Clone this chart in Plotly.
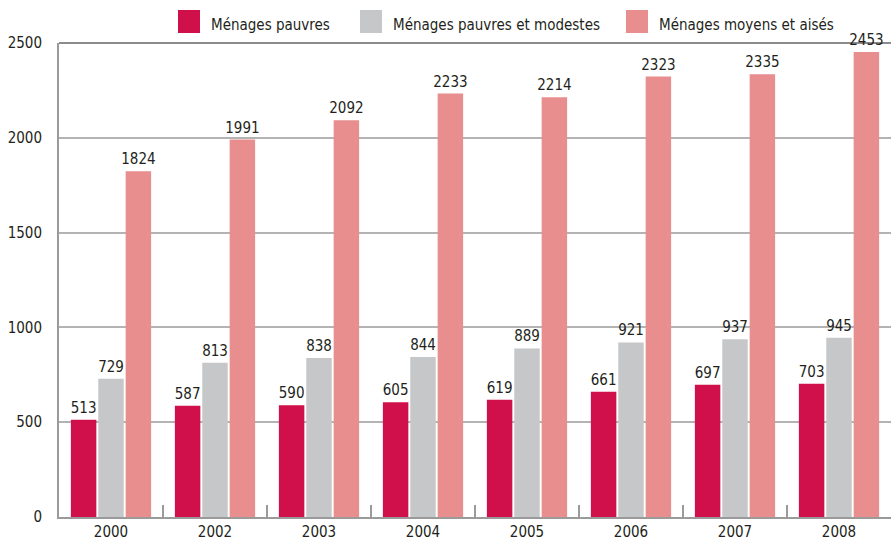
import plotly.graph_objects as go

years = ["2000", "2002", "2003", "2004", "2005", "2006", "2007", "2008"]
pauvres = [513, 587, 590, 605, 619, 661, 697, 703]
modestes = [729, 813, 838, 844, 889, 921, 937, 945]
aises = [1824, 1991, 2092, 2233, 2214, 2323, 2335, 2453]

names = ["Ménages pauvres", "Ménages pauvres et modestes", "Ménages moyens et aisés"]
colors = ["#D0104A", "#C6C7C9", "#E88E8E"]

FONT = "DejaVu Sans Condensed"
TXT = "#231F20"

fig = go.Figure()
for name, vals, col in zip(names, [pauvres, modestes, aises], colors):
    fig.add_trace(go.Bar(
        x=years, y=vals, name=name, marker_color=col, marker_line_width=0,
        text=[str(v) for v in vals], textposition="outside",
        textfont=dict(family=FONT, size=15, color=TXT),
        constraintext="none", cliponaxis=False, showlegend=False,
    ))

# legend drawn by hand so the squares can be large
leg_x = [178, 360, 626]
shapes = []
annots = []
for lx, name, col in zip(leg_x, names, colors):
    shapes.append(dict(type="rect", xref="paper", yref="paper",
                       x0=(lx - 59) / 832, x1=(lx + 22 - 59) / 832,
                       y0=(517 - 33) / 474, y1=(517 - 10) / 474,
                       fillcolor=col, line_width=0))
    annots.append(dict(xref="paper", yref="paper", x=(lx + 31 - 59) / 832,
                       y=(517 - 25) / 474, text=name, showarrow=False,
                       xanchor="left", yanchor="middle",
                       font=dict(family=FONT, size=15, color=TXT)))

# darker frame line along the top
shapes.append(dict(type="line", xref="paper", yref="paper", x0=0, x1=1, y0=1, y1=1,
                   line=dict(color="#8C8C8C", width=2), layer="below"))

fig.update_layout(
    width=891, height=542,
    margin=dict(l=59, r=0, t=43, b=25),
    plot_bgcolor="white", paper_bgcolor="white",
    barmode="group", bargap=0.21, bargroupgap=0.07,
    font=dict(family=FONT, size=15, color=TXT),
    shapes=shapes, annotations=annots,
)
fig.update_yaxes(range=[0, 2500], dtick=500, showgrid=True, gridcolor="#B3B3B3",
                 gridwidth=2, showline=True, linecolor="#9A9A9A", linewidth=2,
                 ticks="", ticklabelstandoff=12, zeroline=False, automargin=False,
                 tickfont=dict(family=FONT, size=15, color=TXT))
fig.update_xaxes(showline=True, linecolor="#9A9A9A", linewidth=2, automargin=False,
                 ticks="inside", tickson="boundaries", ticklen=12, tickwidth=2,
                 tickcolor="#9A9A9A", tickfont=dict(family=FONT, size=15, color=TXT))

fig.write_html("out.html", config={"displayModeBar": False},
               post_script="document.body.style.margin='0';")
